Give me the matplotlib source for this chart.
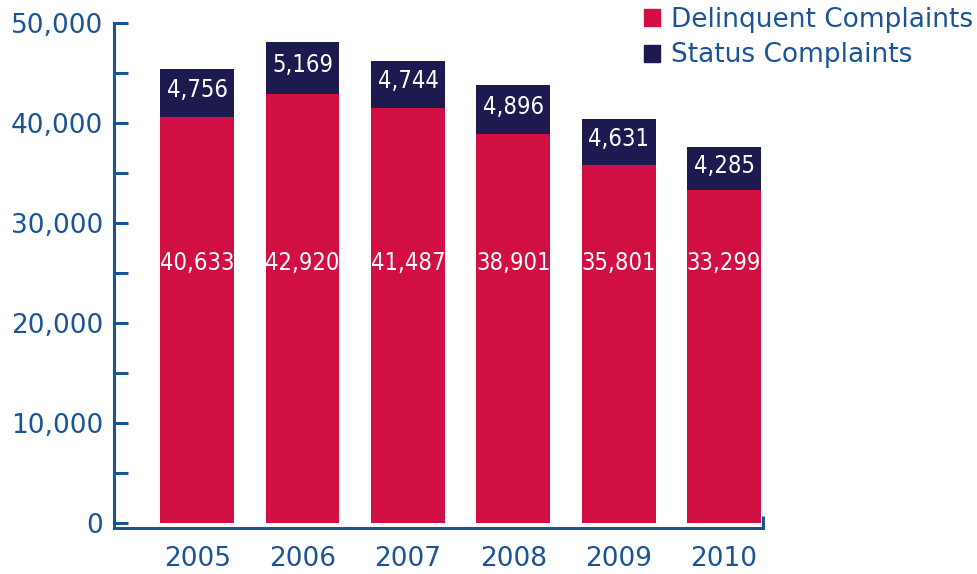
import matplotlib.pyplot as plt
from matplotlib.patches import Patch
import numpy as np

plt.rcParams["font.family"] = "DejaVu Sans"

years = ["2005", "2006", "2007", "2008", "2009", "2010"]
delinquent = [40633, 42920, 41487, 38901, 35801, 33299]
status = [4756, 5169, 4744, 4896, 4631, 4285]

red = "#d20f43"
navy = "#1c1a4f"
blue = "#1a5494"

fig = plt.figure(figsize=(9.78, 5.74), dpi=100)
ax = fig.add_axes([114 / 978, 46 / 574, 649 / 978, 505 / 574])

x = np.arange(len(years))
w = 0.7
ax.bar(x, delinquent, w, color=red, label="Delinquent Complaints")
ax.bar(x, status, w, bottom=delinquent, color=navy, label="Status Complaints")

for i in range(len(years)):
    ax.text(x[i], 26000, f"{delinquent[i]:,}", ha="center", va="center",
            color="white", fontsize=17, fontstretch="condensed")
    ax.text(x[i], delinquent[i] + status[i] / 2 + 300, f"{status[i]:,}",
            ha="center", va="center", color="white", fontsize=17,
            fontstretch="condensed")

xmax = 5.37
ax.set_xlim(-0.79, xmax)
ax.set_ylim(-500, 50000)
ax.set_xticks(x)
ax.set_xticklabels(years)
ax.set_yticks(np.arange(0, 50001, 10000))
ax.set_yticks(np.arange(5000, 50000, 10000), minor=True)
ax.yaxis.set_major_formatter(plt.FuncFormatter(lambda v, p: f"{int(v):,}"))
ax.set_xticks([xmax], minor=True)

for s in ["top", "right"]:
    ax.spines[s].set_visible(False)
for s in ["left", "bottom"]:
    ax.spines[s].set_color(blue)
    ax.spines[s].set_linewidth(2.2)

ax.tick_params(axis="y", which="both", direction="in", length=10, width=2.2,
               color=blue, labelcolor=blue, labelsize=19, pad=8)
ax.tick_params(axis="x", which="major", length=0, labelcolor=blue,
               labelsize=19, pad=13)
ax.tick_params(axis="x", which="minor", direction="in", length=9, width=2.2,
               color=blue)

handles = [Patch(color=red), Patch(color=navy)]
fig.legend(handles, ["Delinquent Complaints", "Status Complaints"],
           loc="upper left", bbox_to_anchor=(0.658, 0.988), frameon=False,
           fontsize=19, handlelength=0.62, handleheight=0.62,
           handletextpad=0.42, labelspacing=0.36, borderpad=0,
           borderaxespad=0, labelcolor=blue)

plt.savefig("out.png", dpi=100)
